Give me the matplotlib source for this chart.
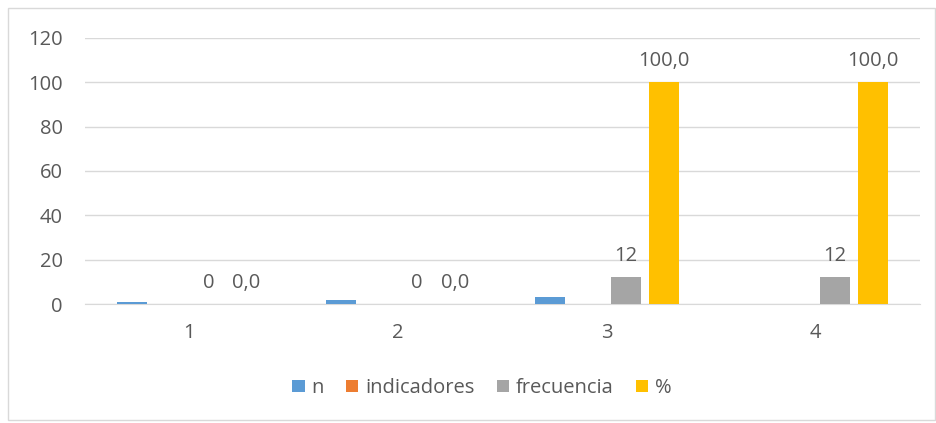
import numpy as np
import matplotlib
matplotlib.use("Agg")
import matplotlib.pyplot as plt
from matplotlib.patches import Rectangle

categories = ["1", "2", "3", "4"]
n_vals = [1, 2, 3, 0]
indicadores = [0, 0, 0, 0]
frecuencia = [0, 0, 12, 12]
porcentaje = [0.0, 0.0, 100.0, 100.0]

series = [
    ("n", n_vals, "#5B9BD5", None),
    ("indicadores", indicadores, "#ED7D31", None),
    ("frecuencia", frecuencia, "#A5A5A5", lambda v: f"{v:d}"),
    ("%", porcentaje, "#FFC000", lambda v: f"{v:.1f}".replace(".", ",")),
]

TXT = "#595959"
FS = 14.5
plt.rcParams["font.family"] = ["Open Sans", "DejaVu Sans"]

fig = plt.figure(figsize=(9.36, 4.23), dpi=100)
fig.patches.append(Rectangle((8 / 936, 3 / 423), 927 / 936, 412 / 423,
                             transform=fig.transFigure, fill=False,
                             edgecolor="#D9D9D9", lw=1))
ax = fig.add_axes([85 / 936, (423 - 304) / 423, 835 / 936, 266 / 423])

x = np.arange(len(categories))
width = 0.1435
step = 0.182
for k, (name, vals, col, fmt) in enumerate(series):
    pos = x + (k - 1.5) * step
    ax.bar(pos, vals, width, color=col, label=name, zorder=3)
    if fmt is not None:
        for p, v in zip(pos, vals):
            ax.annotate(fmt(v), (p, v), xytext=(0, 8), textcoords="offset points",
                        ha="center", va="bottom", fontsize=FS, color=TXT)

ax.set_xlim(-0.5, len(categories) - 0.5)
ax.set_ylim(0, 120)
ax.set_yticks(range(0, 121, 20))
ax.set_xticks(x)
ax.set_xticklabels(categories)
ax.yaxis.grid(True, color="#D9D9D9", lw=1, zorder=0)
for s in ["top", "right", "left"]:
    ax.spines[s].set_visible(False)
ax.spines["bottom"].set_color("#D9D9D9")
ax.tick_params(axis="both", length=0, labelsize=FS, labelcolor=TXT)
ax.tick_params(axis="y", pad=16)
ax.tick_params(axis="x", pad=14)

leg = fig.legend(loc="center", bbox_to_anchor=(482 / 936, (423 - 388) / 423),
                 ncol=4, frameon=False, fontsize=FS, handlelength=0.6,
                 handleheight=0.6, handletextpad=0.35, columnspacing=1.1)
for t in leg.get_texts():
    t.set_color(TXT)

fig.savefig("out.png", dpi=100)
